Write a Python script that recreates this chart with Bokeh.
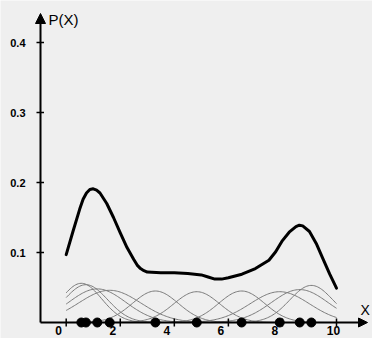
import numpy as np
from bokeh.plotting import figure
from bokeh.models import Range1d, Arrow, NormalHead, Label, ColumnDataSource
from bokeh.core.properties import value
from bokeh.embed import file_html
from bokeh.resources import INLINE

# ---- data ----
points = [0.56, 0.73, 1.15, 1.61, 3.3, 4.83, 6.49, 7.9, 8.64, 9.07]
kernel_peaks = [0.056, 0.054, 0.048, 0.046, 0.045, 0.044, 0.045, 0.044, 0.047, 0.053]
kernel_widths = [0.75, 0.8, 1.05, 1.15, 0.85, 0.85, 0.85, 1.1, 1.05, 0.8]

sum_x = [0, 0.25, 0.5, 0.625, 0.75, 0.875, 1.0, 1.125, 1.25, 1.5, 1.75, 2.0,
         2.25, 2.5, 2.625, 2.75, 2.875, 3.0, 3.5, 4.0, 4.5, 5.0, 5.25, 5.5,
         5.75, 6.0, 6.5, 7.0, 7.5, 7.75, 8.0, 8.25, 8.5, 8.625, 8.75, 9.0,
         9.25, 9.5, 9.75, 10]
sum_y = [0.097, 0.130, 0.162, 0.176, 0.185, 0.190, 0.191, 0.189, 0.185, 0.170,
         0.150, 0.128, 0.107, 0.090, 0.082, 0.077, 0.074, 0.072, 0.071, 0.071,
         0.070, 0.068, 0.065, 0.062, 0.062, 0.064, 0.069, 0.077, 0.089, 0.101,
         0.117, 0.129, 0.137, 0.139, 0.138, 0.130, 0.113, 0.091, 0.069, 0.049]

x_ticks = [0, 2, 4, 6, 8, 10]
x_tick_labels = ["0", "2", "4", "6", "8", "10"]
y_ticks = [0.1, 0.2, 0.3, 0.4]
y_tick_labels = ["0.1", "0.2", "0.3", "0.4"]

# ---- layout ----
W, H = 372, 338
X0PX, XSC = 65.7, 27.03   # pixel of x=0, pixels per unit
Y0PX, YSC = 322.0, 700.0  # pixel of y=0, pixels per unit
AX = (40 - X0PX) / XSC    # where the vertical axis sits

p = figure(width=W, height=H,
           x_range=Range1d(-X0PX / XSC, (W - X0PX) / XSC),
           y_range=Range1d(-(H - Y0PX) / YSC, Y0PX / YSC),
           x_axis_type=None, y_axis_type=None,
           output_backend="svg", toolbar_location=None, min_border=0)
p.grid.visible = False
p.outline_line_color = None
p.background_fill_color = "#efefef"
p.border_fill_color = "#efefef"

LABEL_FONT = value("Liberation Sans")

# kernels
xs = np.linspace(0, 10, 201)
kx, ky = [], []
for c, h, w in zip(points, kernel_peaks, kernel_widths):
    kx.append(xs)
    ky.append(h * np.exp(-(xs - c) ** 2 / (2 * w ** 2)))
p.multi_line(kx, ky, line_color="#7a7a7a", line_width=1)

# axes with arrow heads
p.add_layout(Arrow(end=NormalHead(size=10, fill_color="black", line_color="black"),
                   x_start=AX, y_start=0, x_end=AX, y_end=(Y0PX - 13) / YSC,
                   line_color="black", line_width=2))
p.add_layout(Arrow(end=NormalHead(size=9, fill_color="black", line_color="black"),
                   x_start=AX, y_start=0, x_end=(367 - X0PX) / XSC, y_end=0,
                   line_color="black", line_width=2))

# tick marks
p.segment(x0=[AX - 4 / XSC] * len(y_ticks), x1=[AX + 3.5 / XSC] * len(y_ticks),
          y0=y_ticks, y1=y_ticks, line_color="black", line_width=1.5)
p.segment(x0=x_ticks, x1=x_ticks, y0=[-4 / YSC] * len(x_ticks),
          y1=[4 / YSC] * len(x_ticks), line_color="black", line_width=1.5)

# tick labels
xsrc = ColumnDataSource(dict(x=x_ticks, y=[0] * len(x_ticks), t=x_tick_labels,
                             dx=[-7.5 if len(t) == 1 else -3 for t in x_tick_labels]))
p.text(x="x", y="y", text="t", x_offset="dx", y_offset=8, source=xsrc,
       text_align="center", text_baseline="middle", text_font=LABEL_FONT,
       text_font_style="bold", text_font_size="12px", text_color="black")
ysrc = ColumnDataSource(dict(x=[AX] * len(y_ticks), y=y_ticks, t=y_tick_labels))
p.text(x="x", y="y", text="t", x_offset=-15, source=ysrc,
       text_align="right", text_baseline="middle", text_font=LABEL_FONT,
       text_font_style="bold", text_font_size="11px", text_color="black")

# sum curve
p.line(sum_x, sum_y, line_color="black", line_width=3, line_join="round", line_cap="round")

# sample points
p.scatter(points, [0] * len(points), size=9, fill_color="black", line_color="black")

# axis titles
p.add_layout(Label(x=(48 - X0PX) / XSC, y=(Y0PX - 19) / YSC, text="P(X)",
                   text_font="Liberation Sans", text_font_size="15px",
                   text_baseline="alphabetic", text_color="black"))
p.add_layout(Label(x=(360 - X0PX) / XSC, y=(Y0PX - 309) / YSC, text="X",
                   text_font="Liberation Sans", text_font_size="14px",
                   text_baseline="alphabetic", text_color="black"))

open("out.html", "w").write(file_html(p, INLINE))
